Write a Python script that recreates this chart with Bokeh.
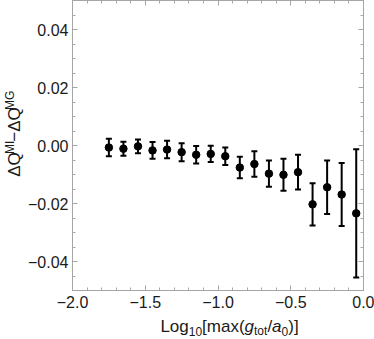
import math
from bokeh.plotting import figure
from bokeh.layouts import row, column
from bokeh.models import (ColumnDataSource, Whisker, TeeHead, LinearAxis,
                          SingleIntervalTicker, CustomJSTickFormatter, Range1d,
                          CustomLabelingPolicy)
from bokeh.core.properties import value
from bokeh.embed import file_html
from bokeh.resources import INLINE

# ---- data ----
log_g = [-1.75, -1.65, -1.55, -1.45, -1.35, -1.25, -1.15, -1.05, -0.95,
         -0.85, -0.75, -0.65, -0.55, -0.45, -0.35, -0.25, -0.15, -0.05]
dq = [-0.0007, -0.0011, -0.0003, -0.0017, -0.0014, -0.0023, -0.0032, -0.0029, -0.0037,
      -0.0076, -0.0064, -0.0097, -0.0101, -0.0092, -0.0203, -0.0144, -0.0169, -0.0234]
dq_err = [0.0030, 0.0024, 0.0024, 0.0029, 0.0030, 0.0031, 0.0030, 0.0028, 0.0030,
          0.0037, 0.0044, 0.0045, 0.0055, 0.0060, 0.0073, 0.0092, 0.0109, 0.0221]

FONT = "Liberation Sans"
FRAME = "#a6a6a6"
TXT = "#1a1a1a"

# layout sizes (pixels)
TOTAL_W, TOTAL_H = 374, 339
YLAB_W = 24
MAIN_H = 314
FRAME_L, FRAME_R, FRAME_B = 72, 363, 290

src = ColumnDataSource(dict(
    x=log_g, y=dq,
    upper=[v + e for v, e in zip(dq, dq_err)],
    lower=[v - e for v, e in zip(dq, dq_err)],
))

p = figure(width=TOTAL_W - YLAB_W, height=MAIN_H, output_backend="svg", toolbar_location=None,
           x_range=Range1d(-2.0, 0.0), y_range=Range1d(-0.05, 0.05),
           min_border_left=FRAME_L - YLAB_W, min_border_right=TOTAL_W - FRAME_R,
           min_border_top=0, min_border_bottom=MAIN_H - FRAME_B)
p.xgrid.visible = False
p.ygrid.visible = False
p.outline_line_color = FRAME
p.background_fill_color = "white"
p.border_fill_color = "white"

fx = CustomJSTickFormatter(code="""
const v = Math.abs(tick) < 1e-9 ? 0 : tick;
return (v < 0 ? '\\u2212' : '') + Math.abs(v).toFixed(1);
""")
fy = CustomJSTickFormatter(code="""
const v = Math.abs(tick) < 1e-9 ? 0 : tick;
return (v < 0 ? '\\u2212' : '') + Math.abs(v).toFixed(2);
""")
hide = CustomLabelingPolicy(code="return new Set()")

def style(ax, show_labels):
    ax.axis_line_color = FRAME
    ax.major_tick_line_color = FRAME
    ax.minor_tick_line_color = FRAME
    ax.major_tick_in = 5
    ax.major_tick_out = 0
    ax.minor_tick_in = 3
    ax.minor_tick_out = 0
    if show_labels:
        ax.major_label_text_font = FONT
        ax.major_label_text_font_size = "16px"
        ax.major_label_text_color = TXT
    else:
        ax.major_label_text_font_size = "0px"
        ax.major_label_standoff = 0
        ax.major_label_policy = hide

p.xaxis.ticker = SingleIntervalTicker(interval=0.5, num_minor_ticks=5)
p.xaxis.formatter = fx
p.yaxis.ticker = SingleIntervalTicker(interval=0.02, num_minor_ticks=4)
p.yaxis.formatter = fy
style(p.xaxis[0], True)
style(p.yaxis[0], True)
p.xaxis.major_label_standoff = 5
p.yaxis.major_label_standoff = 4

top = LinearAxis(ticker=SingleIntervalTicker(interval=0.5, num_minor_ticks=5))
right = LinearAxis(ticker=SingleIntervalTicker(interval=0.02, num_minor_ticks=4))
style(top, False)
style(right, False)
p.add_layout(top, "above")
p.add_layout(right, "right")

# ---- data marks ----
w = Whisker(source=src, base="x", upper="upper", lower="lower",
            line_color="black", line_width=2,
            upper_head=TeeHead(size=6, line_color="black", line_width=2),
            lower_head=TeeHead(size=6, line_color="black", line_width=2))
p.add_layout(w)
p.scatter("x", "y", source=src, size=7.5, color="black")

# ---- composite axis labels (Arial metrics, units per 1000 em) ----
W = {"L": 556, "o": 556, "g": 556, "1": 556, "0": 556, "[": 278, "m": 833,
     "a": 556, "x": 500, "(": 333, "t": 278, "/": 278, ")": 333, "]": 278,
     "\u0394": 668, "Q": 778, "M": 833, "I": 278, "G": 778, "\u2212": 584}

def width(s, size):
    return sum(W.get(c, 556) for c in s) * size / 1000.0

MAIN, SMALL = 17, 12
MID = 0.35   # middle of the line box above the baseline, in em

def label_fig(w_px, h_px):
    f = figure(width=w_px, height=h_px, output_backend="svg", toolbar_location=None,
               x_range=Range1d(0, w_px), y_range=Range1d(0, h_px),
               min_border=0, x_axis_location=None, y_axis_location=None)
    f.outline_line_color = None
    f.background_fill_color = "white"
    f.border_fill_color = "white"
    f.grid.visible = False
    return f

def put(f, text, x, y, size, italic=False, angle=0.0):
    f.text(x=[x], y=[y], text=[text], text_font=value(FONT),
           text_font_size=value(f"{size}px"),
           text_font_style="italic" if italic else "normal",
           text_color=TXT, text_align="left", text_baseline="middle", angle=angle)

# x label: Log10[max(g_tot/a0)]
XLAB_H = TOTAL_H - MAIN_H
xl = label_fig(TOTAL_W, XLAB_H)
xpieces = [("Log", MAIN, 0, False), ("10", SMALL, -3.5, False), ("[max(", MAIN, 0, False),
           ("g", MAIN, 0, True), ("tot", SMALL, -3.5, False), ("/", MAIN, 0, False),
           ("a", MAIN, 0, True), ("0", SMALL, -3.5, False), (")]", MAIN, 0, False)]
xlen = sum(width(t, s) for t, s, _, _ in xpieces)
cx = 229 - xlen / 2
base_y = TOTAL_H - 331.5        # baseline, measured up from the figure bottom
for t, s, sh, it in xpieces:
    put(xl, t, cx, base_y + sh + MID * s, s, it)
    cx += width(t, s)

# y label: ΔQ^MI − ΔQ^MG (rotated)
yl = label_fig(YLAB_W, MAIN_H)
ypieces = [("\u0394Q", MAIN, 0), ("MI", SMALL, 6), ("\u2212\u0394Q", MAIN, 0), ("MG", SMALL, 6)]
ylen = sum(width(t, s) for t, s, _ in ypieces)
by = (MAIN_H - FRAME_B / 2) - ylen / 2
bx = 20                          # baseline x
for t, s, sh in ypieces:
    put(yl, t, bx - sh - MID * s, by, s, False, math.pi / 2)
    by += width(t, s)

layout = column(row(yl, p, spacing=0), xl, spacing=0)
open("out.html", "w").write(file_html(layout, INLINE))
